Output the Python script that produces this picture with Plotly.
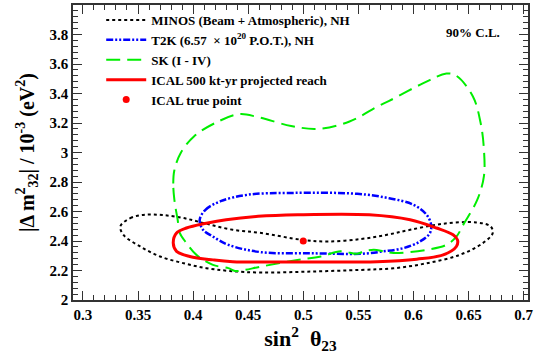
import plotly.graph_objects as go

# sin^2(theta23) / |dm2_32| (1e-3 eV^2) contours, 90% C.L.
minos_x = [0.334, 0.343, 0.356, 0.372, 0.391, 0.412, 0.436, 0.462, 0.499, 0.522, 0.552, 0.576,
           0.597, 0.627, 0.657, 0.670, 0.672, 0.663, 0.642, 0.612, 0.582, 0.552, 0.507, 0.462,
           0.433, 0.412, 0.391, 0.370, 0.352, 0.337, 0.334]
minos_y = [2.499, 2.555, 2.578, 2.576, 2.556, 2.517, 2.476, 2.454, 2.408, 2.397, 2.413, 2.442,
           2.476, 2.517, 2.526, 2.499, 2.454, 2.386, 2.306, 2.249, 2.215, 2.204, 2.193, 2.186,
           2.197, 2.216, 2.250, 2.295, 2.363, 2.440, 2.499]

t2k_x = [0.406, 0.411, 0.425, 0.450, 0.489, 0.549, 0.578, 0.600, 0.612, 0.616, 0.615, 0.606,
         0.591, 0.573, 0.552, 0.507, 0.462, 0.432, 0.418, 0.409, 0.406]
t2k_y = [2.544, 2.610, 2.670, 2.714, 2.726, 2.720, 2.690, 2.646, 2.578, 2.510, 2.454, 2.397,
         2.352, 2.330, 2.313, 2.317, 2.324, 2.374, 2.430, 2.476, 2.544]

sk_x = [0.383, 0.382, 0.383, 0.389, 0.401, 0.420, 0.442, 0.459, 0.489, 0.513, 0.542, 0.567,
        0.578, 0.609, 0.630, 0.639, 0.654, 0.661, 0.664, 0.664, 0.658, 0.646, 0.639, 0.630,
        0.612, 0.582, 0.573, 0.564, 0.555, 0.549, 0.534, 0.516, 0.492, 0.462, 0.444, 0.438,
        0.432, 0.418, 0.403, 0.394, 0.388, 0.386, 0.383]
sk_y = [2.680, 2.790, 2.880, 3.000, 3.110, 3.200, 3.260, 3.240, 3.180, 3.160, 3.210, 3.310,
        3.350, 3.470, 3.535, 3.520, 3.380, 3.200, 3.020, 2.840, 2.680, 2.520, 2.430, 2.374,
        2.340, 2.318, 2.330, 2.340, 2.330, 2.313, 2.330, 2.295, 2.268, 2.227, 2.200, 2.197,
        2.216, 2.238, 2.306, 2.386, 2.454, 2.544, 2.680]

ical_x = [0.382, 0.385, 0.394, 0.412, 0.430, 0.459, 0.495, 0.560, 0.597, 0.621, 0.636, 0.640,
          0.639, 0.627, 0.603, 0.567, 0.500, 0.436, 0.418, 0.397, 0.385, 0.382]
ical_y = [2.386, 2.454, 2.488, 2.520, 2.544, 2.567, 2.578, 2.578, 2.544, 2.488, 2.442, 2.408,
          2.363, 2.306, 2.277, 2.260, 2.258, 2.260, 2.272, 2.295, 2.330, 2.386]

true_x = [0.5]
true_y = [2.4]

font = "Liberation Serif"

fig = go.Figure()
fig.add_trace(go.Scatter(x=minos_x, y=minos_y, mode="lines", line_shape="spline",
                         line=dict(color="black", width=2, dash="3px,3px"),
                         name="MINOS (Beam + Atmospheric), NH"))
fig.add_trace(go.Scatter(x=t2k_x, y=t2k_y, mode="lines", line_shape="spline",
                         line=dict(color="#0000ff", width=2.5, dash="7px,2px,2px,2px,2px,2px"),
                         name="T2K (6.57  \u00d7 10<sup>20</sup> P.O.T.), NH"))
fig.add_trace(go.Scatter(x=sk_x, y=sk_y, mode="lines", line_shape="spline",
                         line=dict(color="#00ee00", width=2, dash="14px,7px"),
                         name="SK (I - IV)"))
fig.add_trace(go.Scatter(x=ical_x, y=ical_y, mode="lines", line_shape="spline",
                         line=dict(color="#ff0000", width=3),
                         name="ICAL 500 kt-yr projected reach"))
fig.add_trace(go.Scatter(x=true_x, y=true_y, mode="markers",
                         marker=dict(color="#ff0000", size=7),
                         name="ICAL true point"))

axis_common = dict(showline=True, linecolor="#333333", linewidth=1.5, mirror="ticks",
                   ticks="inside", ticklen=9, tickcolor="#333333", showgrid=False,
                   zeroline=False, automargin=False,
                   tickfont=dict(family=font, size=15, color="black", weight="bold"))

fig.update_xaxes(range=[0.291, 0.704], tickvals=[0.3, 0.35, 0.4, 0.45, 0.5, 0.55, 0.6, 0.65, 0.7],
                 ticktext=["0.3", "0.35", "0.4", "0.45", "0.5", "0.55", "0.6", "0.65", "0.7"],
                 minor=dict(ticks="inside", ticklen=5, dtick=0.01, tick0=0.3, tickcolor="#333333"),
                 title=dict(text="sin<sup>2</sup>  \u03b8<sub>23</sub>", standoff=4,
                            font=dict(family=font, size=22, color="black", weight="bold")),
                 **axis_common)
fig.update_yaxes(range=[2, 4], tickvals=[2, 2.2, 2.4, 2.6, 2.8, 3, 3.2, 3.4, 3.6, 3.8, 4],
                 ticktext=["2", "2.2", "2.4", "2.6", "2.8", "3", "3.2", "3.4", "3.6", "3.8", "4"],
                 minor=dict(ticks="inside", ticklen=5, dtick=0.04, tick0=2, tickcolor="#333333"),
                 title=dict(text="|\u0394 m<sup>2</sup><sub>32</sub>| / 10<sup>-3</sup> (eV<sup>2</sup>)",
                            standoff=10,
                            font=dict(family=font, size=20, color="black", weight="bold")),
                 **axis_common)

fig.add_annotation(x=0.879, y=0.908, xref="paper", yref="paper", text="90% C.L.",
                   xanchor="center", yanchor="middle", showarrow=False,
                   font=dict(family=font, size=13, color="black", weight="bold"))

fig.update_layout(
    width=540, height=360,
    margin=dict(l=73, r=12, t=5, b=60),
    plot_bgcolor="white", paper_bgcolor="white",
    legend=dict(x=0.062, y=1.0, xanchor="left", yanchor="top", bgcolor="rgba(0,0,0,0)",
                font=dict(family=font, size=13, color="black", weight="bold"),
                tracegroupgap=0, itemwidth=40),
)

fig.write_html("out.html", config={"displayModeBar": False},
               post_script="document.body.style.margin='0';")
